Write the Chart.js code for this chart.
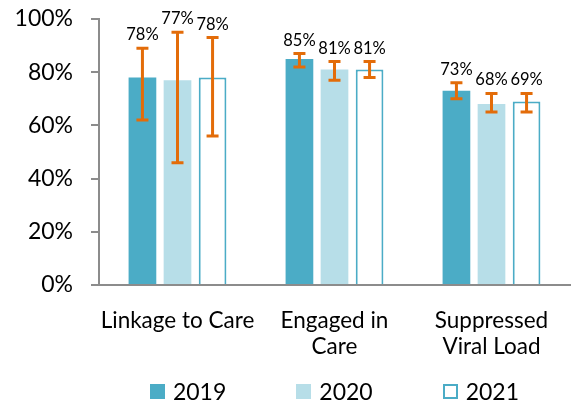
<!DOCTYPE html>
<html>
<head>
<meta charset="utf-8">
<script src="https://cdn.jsdelivr.net/npm/chart.js@4"></script>
<style>
  html, body { margin: 0; padding: 0; background: #fff; }
  #wrap { position: relative; width: 572px; height: 400px; }
  #legend {
    position: absolute; left: 99px; width: 471px; top: 378px;
    display: flex; justify-content: center; gap: 70px;
    font: 23px Lato, sans-serif; color: #000; line-height: 26px;
  }
  #legend span.item { display: flex; align-items: center; }
  #legend span.box { display: inline-block; width: 15px; height: 15px; margin-right: 8px; box-sizing: border-box; }
</style>
</head>
<body>
<div id="wrap">
  <canvas id="chart" width="572" height="400"></canvas>
  <div id="legend"></div>
</div>
<script>
// categories and series
const categories = [['Linkage to Care'], ['Engaged in', 'Care'], ['Suppressed', 'Viral Load']];
const years = ['2019', '2020', '2021'];

const values2019 = [78, 85, 73];
const values2020 = [77, 81, 68];
const values2021 = [78, 81, 69];

// error bar ends (low / high)
const errLow2019 = [62, 82, 70];
const errHigh2019 = [89, 87, 76];
const errLow2020 = [46, 77, 65];
const errHigh2020 = [95, 84, 72];
const errLow2021 = [56, 78, 65];
const errHigh2021 = [93, 84, 72];

const yTicks = [0, 20, 40, 60, 80, 100];

const teal = '#4BACC6';
const lightTeal = '#B7DEE8';
const orange = '#E36C09';
const axisGray = '#8C8C8C';
const fontFamily = 'Lato, sans-serif';

const errors = [
  { low: errLow2019, high: errHigh2019 },
  { low: errLow2020, high: errHigh2020 },
  { low: errLow2021, high: errHigh2021 }
];

// draws the error bars and the value labels above them
const errorBarPlugin = {
  id: 'errorBars',
  afterDatasetsDraw(chart) {
    const ctx = chart.ctx;
    const yScale = chart.scales.y;
    chart.data.datasets.forEach((ds, i) => {
      const meta = chart.getDatasetMeta(i);
      meta.data.forEach((bar, j) => {
        const yLo = yScale.getPixelForValue(errors[i].low[j]);
        const yHi = yScale.getPixelForValue(errors[i].high[j]);
        ctx.save();
        ctx.strokeStyle = orange;
        ctx.lineWidth = 3;
        ctx.beginPath();
        ctx.moveTo(bar.x, yLo);
        ctx.lineTo(bar.x, yHi);
        ctx.moveTo(bar.x - 6, yLo);
        ctx.lineTo(bar.x + 6, yLo);
        ctx.moveTo(bar.x - 6, yHi);
        ctx.lineTo(bar.x + 6, yHi);
        ctx.stroke();

        ctx.fillStyle = '#000';
        ctx.font = '16.5px ' + fontFamily;
        ctx.textAlign = 'center';
        ctx.textBaseline = 'alphabetic';
        ctx.fillText(ds.data[j] + '%', bar.x, yHi - 8);
        ctx.restore();
      });
    });
  }
};

const chart = new Chart(document.getElementById('chart'), {
  type: 'bar',
  data: {
    labels: categories,
    datasets: [
      { label: years[0], data: values2019, backgroundColor: teal, borderColor: teal, borderWidth: 0 },
      { label: years[1], data: values2020, backgroundColor: lightTeal, borderColor: lightTeal, borderWidth: 0 },
      { label: years[2], data: values2021, backgroundColor: '#FFFFFF', borderColor: teal, borderWidth: 2, borderSkipped: 'bottom' }
    ]
  },
  options: {
    responsive: false,
    devicePixelRatio: 1,
    animation: false,
    datasets: {
      bar: { barPercentage: 0.79, categoryPercentage: 0.67 }
    },
    layout: { padding: { top: 19, right: 2, left: 0, bottom: 0 } },
    plugins: {
      legend: { display: false },
      tooltip: { enabled: false }
    },
    scales: {
      x: {
        grid: { display: false, drawTicks: false },
        border: { display: true, color: axisGray, width: 2 },
        ticks: {
          color: '#000',
          padding: 22,
          maxRotation: 0,
          autoSkip: false,
          font: { family: fontFamily, size: 22.5, lineHeight: 1.18 }
        },
        afterFit(scale) { scale.height = 115; }
      },
      y: {
        min: 0,
        max: 100,
        afterBuildTicks(scale) { scale.ticks = yTicks.map(v => ({ value: v })); },
        grid: { drawOnChartArea: false, drawTicks: true, tickLength: 8, color: axisGray, lineWidth: 2 },
        border: { display: true, color: axisGray, width: 2 },
        ticks: {
          color: '#000',
          padding: 18,
          font: { family: fontFamily, size: 23 },
          callback: v => v + '%'
        },
        afterFit(scale) {
          scale.width = 99;
          scale.paddingTop = 0;
          scale.paddingBottom = 0;
        }
      }
    }
  },
  plugins: [errorBarPlugin]
});

// legend built from the datasets
const legendEl = document.getElementById('legend');
chart.data.datasets.forEach(ds => {
  const item = document.createElement('span');
  item.className = 'item';
  const box = document.createElement('span');
  box.className = 'box';
  box.style.background = ds.backgroundColor;
  box.style.border = ds.borderWidth ? '2px solid ' + ds.borderColor : 'none';
  item.appendChild(box);
  item.appendChild(document.createTextNode(ds.label));
  legendEl.appendChild(item);
});
</script>
</body>
</html>
